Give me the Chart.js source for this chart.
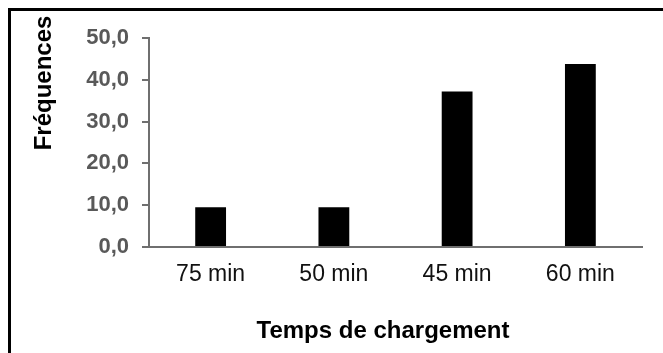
<!DOCTYPE html>
<html>
<head>
<meta charset="utf-8">
<script src="https://cdn.jsdelivr.net/npm/chart.js@4.4.1/dist/chart.umd.min.js"></script>
<style>
  html, body { margin: 0; padding: 0; background: #fff; }
  #wrap { position: relative; width: 663px; height: 353px; overflow: hidden; }
  #frame {
    position: absolute; left: 8px; top: 8px; right: -10px; bottom: -10px;
    border-top: 3px solid #000; border-left: 3px solid #000;
  }
  canvas { position: absolute; left: 0; top: 0; }
</style>
</head>
<body>
<div id="wrap">
  <div id="frame"></div>
  <canvas id="c" width="663" height="353"></canvas>
</div>
<script>
// Charging time categories and their frequencies (%)
const categories = ['75 min', '50 min', '45 min', '60 min'];
const frequencies = [9.5, 9.5, 37.2, 43.8];
const yTicks = [0, 10, 20, 30, 40, 50];

const xTitle = 'Temps de chargement';
const yTitle = 'Fréquences';

const FONT = '"Liberation Sans", Arial, sans-serif';

// Axis titles drawn at fixed spots around the plot
const axisTitles = {
  id: 'axisTitles',
  afterDraw(chart) {
    const ctx = chart.ctx;
    ctx.save();
    ctx.fillStyle = '#000';
    ctx.font = 'bold 24px ' + FONT;
    ctx.textAlign = 'center';
    ctx.textBaseline = 'middle';
    ctx.fillText(xTitle, 383, 331);
    ctx.translate(44, 83);
    ctx.rotate(-Math.PI / 2);
    ctx.fillText(yTitle, 0, 0);
    ctx.restore();
  }
};

new Chart(document.getElementById('c'), {
  type: 'bar',
  data: {
    labels: categories,
    datasets: [{
      data: frequencies,
      backgroundColor: '#000',
      borderWidth: 0,
      barPercentage: 0.25,
      categoryPercentage: 1.0
    }]
  },
  options: {
    responsive: false,
    animation: false,
    events: [],
    layout: { padding: { left: 0, right: 21, top: 38, bottom: 0 } },
    plugins: {
      legend: { display: false },
      tooltip: { enabled: false }
    },
    scales: {
      x: {
        afterFit(scale) { scale.height = 106; },
        grid: { display: false, drawTicks: false },
        border: { display: true, color: '#6f6f6f', width: 2 },
        ticks: {
          color: '#111',
          padding: 14,
          font: { family: FONT, size: 23 },
          maxRotation: 0
        }
      },
      y: {
        min: 0,
        max: 50,
        afterFit(scale) { scale.width = 149; },
        afterBuildTicks(scale) { scale.ticks = yTicks.map(v => ({ value: v })); },
        grid: { drawOnChartArea: false, drawTicks: true, tickLength: 7, color: '#6f6f6f', lineWidth: 2 },
        border: { display: true, color: '#6f6f6f', width: 2 },
        ticks: {
          color: '#595959',
          padding: 13,
          font: { family: FONT, size: 22, weight: 'bold' },
          callback: v => v.toFixed(1).replace('.', ',')
        }
      }
    }
  },
  plugins: [axisTitles]
});
</script>
</body>
</html>
